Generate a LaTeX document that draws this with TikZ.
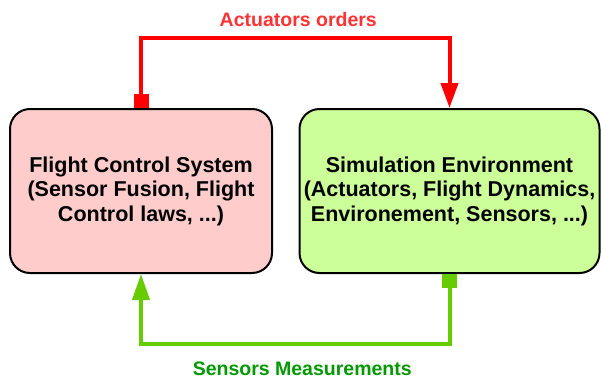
\documentclass[tikz,border=0pt]{standalone}
\usepackage{fontspec}
\setmainfont{Liberation Sans}
\usetikzlibrary{arrows.meta, positioning}
\definecolor{fcsPink}{HTML}{FFCCCC}
\definecolor{simGreen}{HTML}{CCFF99}
\definecolor{orderRed}{HTML}{FF0000}
\definecolor{orderText}{HTML}{FF3333}
\definecolor{measGreen}{HTML}{66CC00}
\definecolor{measText}{HTML}{009900}
\tikzset{
  blockBox/.style={rectangle, rounded corners=20pt, draw=black, line width=2pt,
                   align=center, font=\bfseries\fontsize{21.5}{24.5}\selectfont,
                   minimum height=164pt, inner sep=0pt},
  arrowOrder/.style={{Square[length=14pt,width=15pt]}-{Triangle[length=25pt,width=17pt]},
                     orderRed, line width=4pt},
  arrowMeas/.style={{Square[length=14pt,width=15pt]}-{Triangle[length=26pt,width=17pt]},
                    measGreen, line width=4pt},
  lblOrder/.style={font=\bfseries\fontsize{19.5}{22}\selectfont, text=orderText},
  lblMeas/.style={font=\bfseries\fontsize{19.5}{22}\selectfont, text=measText},
}
\begin{document}
\begin{tikzpicture}[x=1pt, y=-1pt]
    \useasboundingbox (0,0) rectangle (601,380);
    \node[blockBox, fill=fcsPink, minimum width=262pt] (fcs) at (141,191)
      {Flight Control System\\(Sensor Fusion, Flight\\Control laws, ...)};
    \node[blockBox, fill=simGreen, minimum width=300pt] (sim) at (449.5,191)
      {Simulation Environment\\(Actuators, Flight Dynamics,\\Environement, Sensors, ...)};
    \draw[arrowOrder] (fcs.north) -- ++(0,-70) -| (sim.north)
      node[lblOrder, pos=0.25, above=6pt, xshift=3pt] (orders) {Actuators orders};
    \draw[arrowMeas] (sim.south) -- ++(0,70) -| (fcs.south)
      node[lblMeas, pos=0.25, below=13pt, xshift=7pt] (meas) {Sensors Measurements};
  \end{tikzpicture}
\end{document}
